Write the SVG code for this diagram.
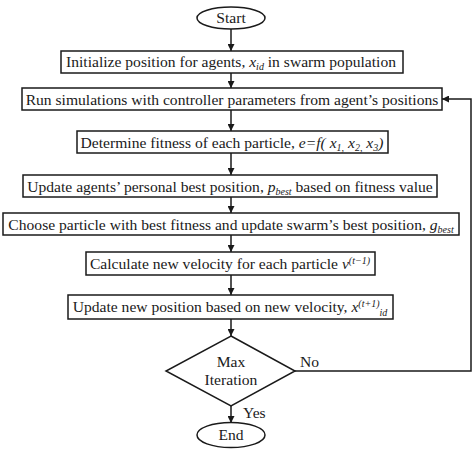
<svg xmlns="http://www.w3.org/2000/svg" width="474" height="452" viewBox="0 0 474 452">
<defs>
<style>
.s{fill:#fff;stroke:#1a1a1a;stroke-width:1.5}
.t{font-family:"Liberation Serif","Times New Roman",serif;font-size:15.6px;fill:#1a1a1a;text-anchor:middle}
.l{fill:none;stroke:#1a1a1a;stroke-width:1.5}
.i{font-style:italic}
</style>
<marker id="a" viewBox="0 0 8 8" refX="8" refY="4" markerWidth="7" markerHeight="7" markerUnits="userSpaceOnUse" orient="auto">
<path d="M0,0 L8,4 L0,8 z" fill="#1a1a1a"/>
</marker>
</defs>
<rect width="474" height="452" fill="#fff"/>
<g id="connectors">
<line class="l" x1="231" y1="29" x2="231" y2="51" marker-end="url(#a)"/>
<line class="l" x1="231" y1="73" x2="231" y2="88" marker-end="url(#a)"/>
<line class="l" x1="231" y1="110" x2="231" y2="131" marker-end="url(#a)"/>
<line class="l" x1="231" y1="153" x2="231" y2="175" marker-end="url(#a)"/>
<line class="l" x1="231" y1="197" x2="231" y2="213" marker-end="url(#a)"/>
<line class="l" x1="231" y1="235" x2="231" y2="252" marker-end="url(#a)"/>
<line class="l" x1="231" y1="275" x2="231" y2="295" marker-end="url(#a)"/>
<line class="l" x1="231" y1="319" x2="231" y2="336" marker-end="url(#a)"/>
<line class="l" x1="231" y1="406" x2="231" y2="423" marker-end="url(#a)"/>
<polyline class="l" points="295,371 471,371 471,99 442,99" marker-end="url(#a)"/>
<text class="t" x="300" y="367" style="text-anchor:start">No</text>
<text class="t" x="243" y="418" style="text-anchor:start">Yes</text>
</g>
<g id="start">
<ellipse class="s" cx="231" cy="18" rx="34" ry="11"/>
<text class="t" x="231" y="23">Start</text>
</g>
<g id="init">
<rect class="s" x="61" y="51" width="342" height="22"/>
<text class="t" x="231" y="67">Initialize position for agents, <tspan class="i">x</tspan><tspan class="i" font-size="10" dy="3">id</tspan><tspan dy="-3"> in swarm population</tspan></text>
</g>
<g id="run">
<rect class="s" x="22" y="88" width="420" height="22"/>
<text class="t" x="232" y="104.5">Run simulations with controller parameters from agent’s positions</text>
</g>
<g id="fitness">
<rect class="s" x="77" y="131" width="311" height="22"/>
<text class="t" x="232" y="147.5">Determine fitness of each particle, <tspan class="i">e=f( x</tspan><tspan class="i" font-size="10" dy="3">1,</tspan><tspan class="i" dy="-3"> x</tspan><tspan class="i" font-size="10" dy="3">2,</tspan><tspan class="i" dy="-3"> x</tspan><tspan class="i" font-size="10" dy="3">3</tspan><tspan class="i" dy="-3">)</tspan></text>
</g>
<g id="pbest">
<rect class="s" x="23" y="175" width="414" height="22"/>
<text class="t" x="230" y="191.5">Update agents’ personal best position, <tspan class="i">p</tspan><tspan class="i" font-size="10" dy="3">best</tspan><tspan dy="-3"> based on fitness value</tspan></text>
</g>
<g id="gbest">
<rect class="s" x="3" y="213" width="456" height="22"/>
<text class="t" x="231" y="229.5">Choose particle with best fitness and update swarm’s best position, <tspan class="i">g</tspan><tspan class="i" font-size="10" dy="3">best</tspan></text>
</g>
<g id="velocity">
<rect class="s" x="86" y="252" width="289" height="23"/>
<text class="t" x="230" y="268.5">Calculate new velocity for each particle <tspan class="i">v</tspan><tspan class="i" font-size="10" dy="-5">(t−1)</tspan></text>
</g>
<g id="position">
<rect class="s" x="68" y="295" width="325" height="24"/>
<text class="t" x="230" y="312">Update new position based on new velocity, <tspan class="i">x</tspan><tspan class="i" font-size="10" dy="-5">(t+1)</tspan><tspan class="i" font-size="10" dy="9">id</tspan></text>
</g>
<g id="decision">
<polygon class="s" points="231,336 295,371 231,406 166,371"/>
<text class="t" x="231" y="367">Max</text>
<text class="t" x="231" y="385">Iteration</text>
</g>
<g id="end">
<ellipse class="s" cx="231" cy="435" rx="34" ry="12.5"/>
<text class="t" x="231" y="440">End</text>
</g>
</svg>
